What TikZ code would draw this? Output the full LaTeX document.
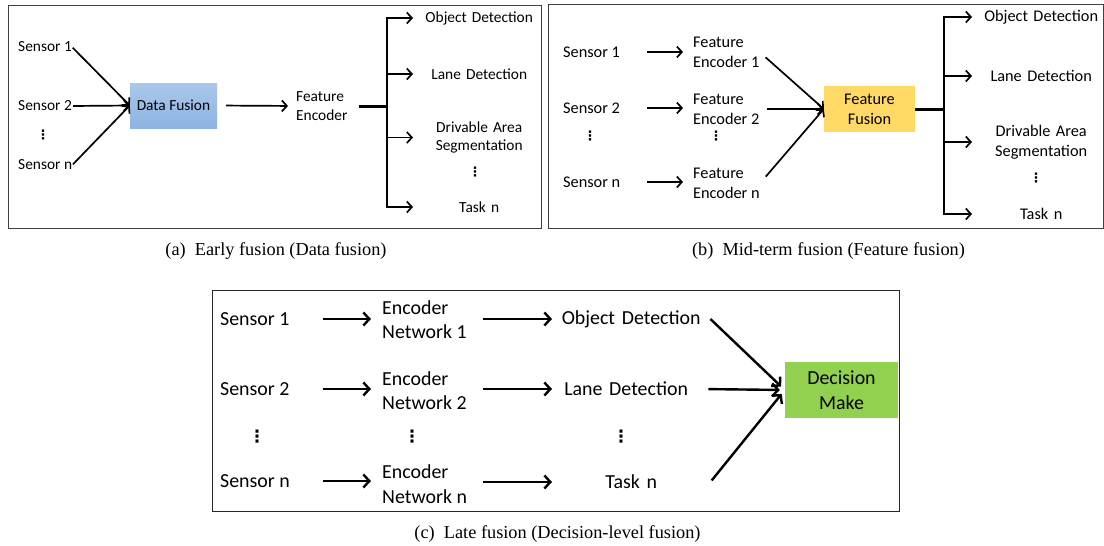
\documentclass[tikz,border=0pt]{standalone}
\usepackage{fontspec}
\newfontfamily\carl{Carlito}
\newfontfamily\capserif{Liberation Serif}
\newfontfamily\dejav{DejaVu Sans}
\usetikzlibrary{arrows.meta}
\definecolor{dftop}{RGB}{170,199,234}
\definecolor{dfbot}{RGB}{141,179,226}
\definecolor{ffcol}{RGB}{255,217,102}
\definecolor{dmcol}{RGB}{146,208,80}
\begin{document}
\begin{tikzpicture}[x=1pt,y=-1pt,
  frame/.style={draw=black!75, line width=1pt},
  ta/.style={font=\carl\fontsize{15.4}{18.5}\selectfont, inner sep=0pt},
  tb/.style={font=\carl\fontsize{16.3}{20}\selectfont, inner sep=0pt},
  tc/.style={font=\carl\fontsize{19.9}{24.5}\selectfont, inner sep=0pt},
  dota/.style={font=\dejav\bfseries\fontsize{13}{13}\selectfont, inner sep=0pt},
  dotc/.style={font=\dejav\bfseries\fontsize{17}{17}\selectfont, inner sep=0pt},
  captxt/.style={font=\capserif\fontsize{18.3}{22}\selectfont, inner sep=0pt},
  arr/.style={line width=1.7pt, -{Straight Barb[length=5pt,width=11pt]}},
  arrc/.style={line width=2.4pt, -{Straight Barb[length=6pt,width=13pt]}},
  trunk/.style={line width=3pt},
  stem/.style={line width=1.7pt, line cap=rect}
]
\useasboundingbox (0,0) rectangle (1104,546);

% ---------------- panel (a) ----------------
\draw[frame] (8,5) rectangle (541,228);
\node[ta, anchor=west] (a1) at (18,47) {Sensor 1};
\node[ta, anchor=west] (a2) at (18,106) {Sensor 2};
\node[ta, anchor=west] (an) at (18,165) {Sensor n};
\node[dota] (ad) at (43,135) {⋮};
\node[ta, minimum width=87, minimum height=45, top color=dftop, bottom color=dfbot] (df) at (173.5,105.5) {Data Fusion};
\draw[arr, shorten <=1pt] (a1.east) -- (df.west);
\draw[arr, shorten <=1pt] (a2.east) -- (df.west);
\draw[arr, shorten <=1pt] (an.east) -- (df.west);
\node[ta, align=left, anchor=west] (fe) at (296,106) {Feature\\Encoder};
\draw[arr, shorten <=9pt, shorten >=8pt] (df.east) -- (fe.west);
\coordinate (ja) at (387,106);
\draw[trunk, shorten <=11pt] (fe.east) -- (ja);
\node[ta, text width=132, align=center, anchor=west] (ta1) at (413,18) {Object Detection};
\node[ta, text width=132, align=center, anchor=west] (ta2) at (413,74) {Lane Detection};
\node[ta, text width=132, align=center, anchor=west] (ta3) at (413,137.5) {Drivable Area\\Segmentation};
\node[dota] (tad) at (475,172) {⋮};
\node[ta, text width=132, align=center, anchor=west] (tan) at (413,207) {Task n};
\draw[stem] (ja |- ta1.west) -- (ja |- tan.west);
\draw[arr] (ja |- ta1.west) -- (ta1.west);
\draw[arr] (ja |- ta2.west) -- (ta2.west);
\draw[arr] (ja |- ta3.west) -- (ta3.west);
\draw[arr] (ja |- tan.west) -- (tan.west);
\node[captxt] (capa) at (276,251) {(a)\hspace{0.5em}Early fusion (Data fusion)};

% ---------------- panel (b) ----------------
\draw[frame] (548,4) rectangle (1103,228);
\node[tb, anchor=west] (b1) at (563,52) {Sensor 1};
\node[tb, anchor=west] (b2) at (563,108) {Sensor 2};
\node[tb, anchor=west] (bn) at (563,182) {Sensor n};
\node[dota] (bd) at (590,136) {⋮};
\node[tb, align=left, anchor=west] (bf1) at (693,52) {Feature\\Encoder 1};
\node[tb, align=left, anchor=west] (bf2) at (693,109) {Feature\\Encoder 2};
\node[tb, align=left, anchor=west] (bfn) at (693,183.5) {Feature\\Encoder n};
\node[dota] (bfd) at (716,136) {⋮};
\draw[arr, shorten <=27pt, shorten >=10pt] (b1.east) -- (b1.east -| bf1.west);
\draw[arr, shorten <=27pt, shorten >=10pt] (b2.east) -- (b2.east -| bf2.west);
\draw[arr, shorten <=27pt, shorten >=10pt] (bn.east) -- (bn.east -| bfn.west);
\node[tb, align=center, minimum width=91, minimum height=46, fill=ffcol] (ff) at (869.5,109) {Feature\\Fusion};
\draw[arr, shorten <=8pt] (bf1.east) -- (ff.west);
\draw[arr, shorten <=7pt] (bf2.east) -- (ff.west);
\draw[arr, shorten <=9pt] (bfn.east) -- (ff.west);
\coordinate (jb) at (944,109);
\draw[trunk] (ff.east) -- (jb);
\node[tb, text width=138, align=center, anchor=west] (tb1) at (972,17) {Object Detection};
\node[tb, text width=138, align=center, anchor=west] (tb2) at (972,76) {Lane Detection};
\node[tb, text width=138, align=center, anchor=west] (tb3) at (972,142) {Drivable Area\\Segmentation};
\node[dota] (tbd) at (1036,178) {⋮};
\node[tb, text width=138, align=center, anchor=west] (tbn) at (972,214) {Task n};
\draw[stem] (jb |- tb1.west) -- (jb |- tbn.west);
\draw[arr] (jb |- tb1.west) -- (tb1.west);
\draw[arr] (jb |- tb2.west) -- (tb2.west);
\draw[arr] (jb |- tb3.west) -- (tb3.west);
\draw[arr] (jb |- tbn.west) -- (tbn.west);
\node[captxt] (capb) at (828.5,251) {(b)\hspace{0.5em}Mid-term fusion (Feature fusion)};

% ---------------- panel (c) ----------------
\draw[frame, draw=black!85] (212,290) rectangle (899,511);
\node[tc, anchor=west] (c1) at (220,319) {Sensor 1};
\node[tc, anchor=west] (c2) at (220,389) {Sensor 2};
\node[tc, anchor=west] (cn) at (220,481) {Sensor n};
\node[dotc] (cd) at (257,437) {⋮};
\node[tc, align=left, anchor=west] (e1) at (382,319.5) {Encoder\\Network 1};
\node[tc, align=left, anchor=west] (e2) at (382,390.5) {Encoder\\Network 2};
\node[tc, align=left, anchor=west] (en) at (382,484) {Encoder\\Network n};
\node[dotc] (ed) at (412,437) {⋮};
\draw[arrc, shorten <=33pt, shorten >=11pt] (c1.east) -- (c1.east -| e1.west);
\draw[arrc, shorten <=33pt, shorten >=11pt] (c2.east) -- (c2.east -| e2.west);
\draw[arrc, shorten <=33pt, shorten >=11pt] (cn.east) -- (cn.east -| en.west);
\node[tc, text width=158, align=center, anchor=west] (o1) at (552,319) {Object Detection};
\node[tc, text width=148, align=center, anchor=west] (o2) at (552,389) {Lane Detection};
\node[dotc] (od) at (621,437) {⋮};
\node[tc, text width=158, align=center, anchor=west] (on) at (552,482) {Task n};
\draw[arrc, shorten <=16pt] (e1.east |- o1.west) -- (o1.west);
\draw[arrc, shorten <=16pt] (e2.east |- o2.west) -- (o2.west);
\draw[arrc, shorten <=16pt] (en.east |- on.west) -- (on.west);
\node[tc, align=center, minimum width=113, minimum height=56, fill=dmcol] (dm) at (841.5,390) {Decision\\Make};
\draw[arrc, shorten >=5pt] (o1.east) -- (dm.west);
\draw[arrc, shorten <=8pt, shorten >=5pt] (o2.east) -- (dm.west);
\draw[arrc, shorten <=2pt, shorten >=5pt] (on.east) -- (dm.west);
\node[captxt] (capc) at (557.5,534) {(c)\hspace{0.5em}Late fusion (Decision-level fusion)};
\end{tikzpicture}
\end{document}
